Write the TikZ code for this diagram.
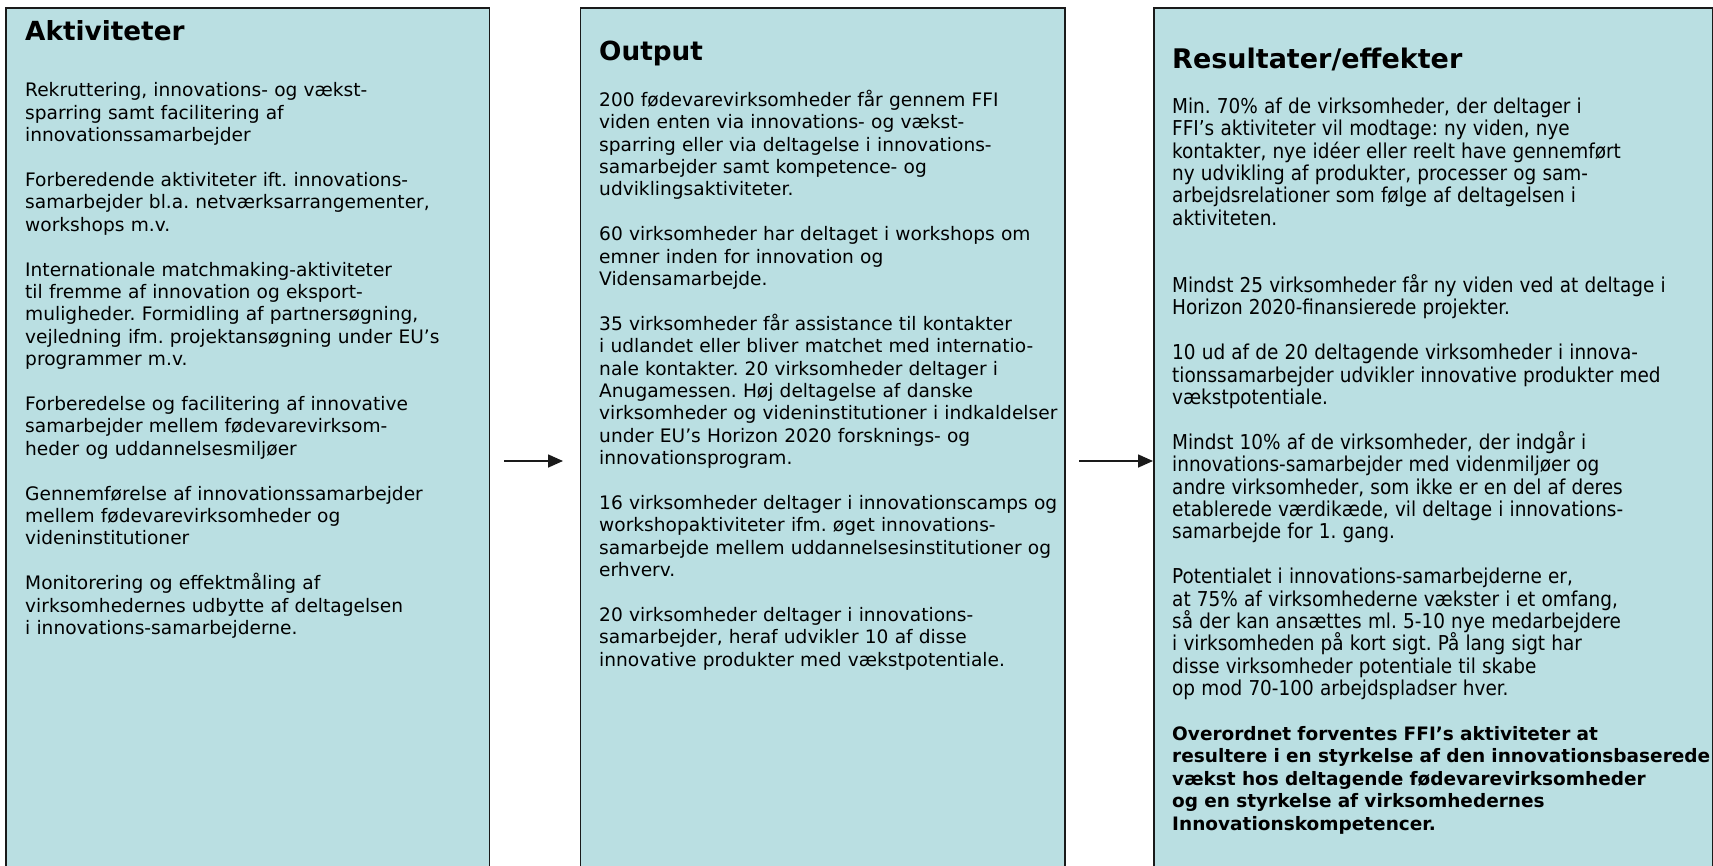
\documentclass[tikz,border=0pt]{standalone}
\usepackage{fontspec}
\setmainfont{DejaVu Sans}
\newfontfamily\condfont{DejaVu Sans Condensed}
\usetikzlibrary{arrows.meta}
\definecolor{boxfill}{RGB}{186,223,226}
\definecolor{boxline}{RGB}{26,26,26}
\frenchspacing
\begin{document}
\begin{tikzpicture}[x=1pt,y=-1pt,
  panel/.style={draw=boxline, line width=1.6pt, fill=boxfill, anchor=north west, inner sep=0pt, minimum height=920pt},
  head/.style={anchor=base west, inner sep=0pt, font=\fontsize{26.3}{30}\selectfont\bfseries},
  body/.style={anchor=north west, inner sep=0pt, text width=640pt, align=left, font=\fontsize{18.6}{22.4}\selectfont\frenchspacing},
  conn/.style={draw=boxline, line width=1.6pt, -{Triangle[length=15pt,width=13pt]}}]
\clip (0,0) rectangle (1713,865);
\fill[white] (0,0) rectangle (1713,865);
% panels
\node[panel, minimum width=483.5pt] (act) at (5,7) {};
\node[panel, minimum width=484.5pt] (out) at (579.5,7) {};
\node[panel, minimum width=559pt] (res) at (1153,7) {};
% headings
\node[head] (acth) at (25,40.7) {Aktiviteter};
\node[head] (outh) at (599,60) {Output};
\node[head, font=\fontsize{27}{30}\selectfont\bfseries] (resh) at (1172,68) {Resultater/effekter};
% bodies
\node[body] (actb) at (25,79.7) {\rule{0pt}{17pt}Rekruttering, innovations- og vækst-\\
sparring samt facilitering af\\
innovationssamarbejder\\[22.4pt]
Forberedende aktiviteter ift. innovations-\\
samarbejder bl.a. netværksarrangementer,\\
workshops m.v.\\[22.4pt]
Internationale matchmaking-aktiviteter\\
til fremme af innovation og eksport-\\
muligheder. Formidling af partnersøgning,\\
vejledning ifm. projektansøgning under EU’s\\
programmer m.v.\\[22.4pt]
Forberedelse og facilitering af innovative\\
samarbejder mellem fødevarevirksom-\\
heder og uddannelsesmiljøer\\[22.4pt]
Gennemførelse af innovationssamarbejder\\
mellem fødevarevirksomheder og\\
videninstitutioner\\[22.4pt]
Monitorering og effektmåling af\\
virksomhedernes udbytte af deltagelsen\\
i innovations-samarbejderne.};
\node[body] (outb) at (599,89) {\rule{0pt}{17pt}200 fødevarevirksomheder får gennem FFI\\
viden enten via innovations- og vækst-\\
sparring eller via deltagelse i innovations-\\
samarbejder samt kompetence- og\\
udviklingsaktiviteter.\\[22.4pt]
60 virksomheder har deltaget i workshops om\\
emner inden for innovation og\\
Vidensamarbejde.\\[22.4pt]
35 virksomheder får assistance til kontakter\\
i udlandet eller bliver matchet med internatio-\\
nale kontakter. 20 virksomheder deltager i\\
Anugamessen. Høj deltagelse af danske\\
virksomheder og videninstitutioner i indkaldelser\\
under EU’s Horizon 2020 forsknings- og\\
innovationsprogram.\\[22.4pt]
16 virksomheder deltager i innovationscamps og\\
workshopaktiviteter ifm. øget innovations-\\
samarbejde mellem uddannelsesinstitutioner og\\
erhverv.\\[22.4pt]
20 virksomheder deltager i innovations-\\
samarbejder, heraf udvikler 10 af disse\\
innovative produkter med vækstpotentiale.};
\node[body] (resb) at (1172,96) {\condfont\fontsize{20.5}{22.4}\selectfont\rule{0pt}{17pt}Min. 70\% af de virksomheder, der deltager i\\
FFI’s aktiviteter vil modtage: ny viden, nye\\
kontakter, nye idéer eller reelt have gennemført\\
ny udvikling af produkter, processer og sam-\\
arbejdsrelationer som følge af deltagelsen i\\
aktiviteten.\\[44.8pt]
Mindst 25 virksomheder får ny viden ved at deltage i\\
Horizon 2020-finansierede projekter.\\[22.4pt]
10 ud af de 20 deltagende virksomheder i innova-\\
tionssamarbejder udvikler innovative produkter med\\
vækstpotentiale.\\[22.4pt]
Mindst 10\% af de virksomheder, der indgår i\\
innovations-samarbejder med videnmiljøer og\\
andre virksomheder, som ikke er en del af deres\\
etablerede værdikæde, vil deltage i innovations-\\
samarbejde for 1. gang.\\[22.4pt]
Potentialet i innovations-samarbejderne er,\\
at 75\% af virksomhederne vækster i et omfang,\\
så der kan ansættes ml. 5-10 nye medarbejdere\\
i virksomheden på kort sigt. På lang sigt har\\
disse virksomheder potentiale til skabe\\
op mod 70-100 arbejdspladser hver.\\[22.4pt]
{\normalfont\fontsize{18.5}{22.4}\selectfont\bfseries Overordnet forventes FFI’s aktiviteter at\\
resultere i en styrkelse af den innovationsbaserede\\
vækst hos deltagende fødevarevirksomheder\\
og en styrkelse af virksomhedernes\\
Innovationskompetencer.}};
% connectors
\coordinate (a1s) at (504,461);
\coordinate (a1e) at (563,461);
\coordinate (a2s) at (1079,461);
\draw[conn] (a1s) -- (a1e);
\draw[conn] (a2s) -- (a2s -| res.west);
\end{tikzpicture}
\end{document}
